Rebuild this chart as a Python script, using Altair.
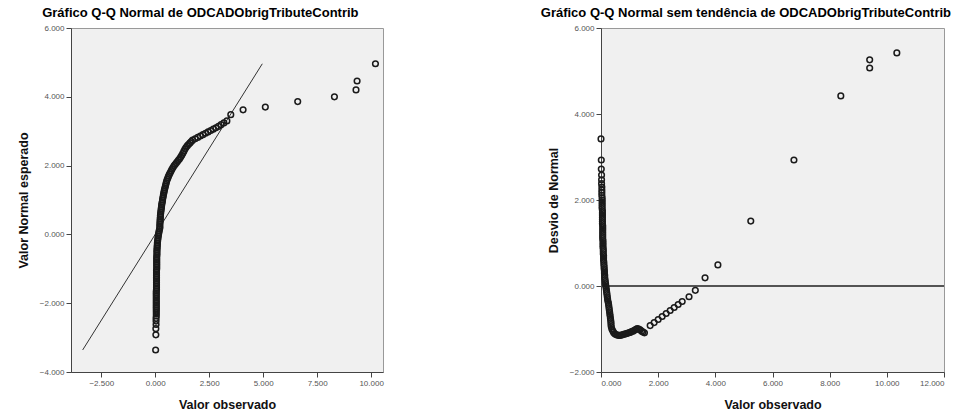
import altair as alt
import pandas as pd

# ---------- Left panel: Normal Q-Q plot (observed value, expected normal value)
LEFT_X = [
    0.02, 0.03, 0.03, 0.04, 0.04, 0.04, 0.05, 0.05, 0.05, 0.05, 0.05,
    0.05, 0.05, 0.05, 0.05, 0.05, 0.05, 0.05, 0.05, 0.05, 0.05, 0.06, 0.06,
    0.06, 0.06, 0.06, 0.06, 0.06, 0.06, 0.06, 0.06, 0.06, 0.06, 0.07, 0.07,
    0.07, 0.07, 0.07, 0.07, 0.07, 0.07, 0.08, 0.08, 0.08, 0.08, 0.09, 0.09,
    0.10, 0.10, 0.11, 0.12, 0.13, 0.14, 0.15, 0.17, 0.18, 0.20, 0.22,
    0.24, 0.25, 0.26, 0.27, 0.28, 0.29, 0.30, 0.31, 0.33, 0.34, 0.35, 0.37,
    0.38, 0.40, 0.41, 0.43, 0.45, 0.47, 0.49, 0.51, 0.53, 0.56, 0.59, 0.62,
    0.66, 0.70, 0.74, 0.78, 0.83, 0.88, 0.93, 0.98, 1.03, 1.08, 1.13, 1.18,
    1.23, 1.28, 1.33, 1.38, 1.43, 1.49, 1.55, 1.61, 1.67, 1.73,
    1.85, 1.97, 2.09, 2.21, 2.33, 2.45, 2.57, 2.69, 2.81, 2.93, 3.05, 3.18,
    3.32, 3.50, 4.07,
    5.10, 6.60, 8.30, 9.30, 9.35, 10.20,
    0.21, 0.22, 0.22, 0.23, 0.23, 0.24,
]
LEFT_Y = [
    -3.36, -2.92, -2.74, -2.62, -2.52, -2.44, -2.37, -2.31, -2.25, -2.20, -2.15,
    -2.10, -2.05, -2.00, -1.95, -1.90, -1.85, -1.80, -1.75, -1.70, -1.65, -1.60, -1.55,
    -1.50, -1.45, -1.40, -1.35, -1.30, -1.25, -1.20, -1.15, -1.10, -1.05, -1.00, -0.95,
    -0.90, -0.85, -0.80, -0.75, -0.70, -0.65, -0.60, -0.55, -0.50, -0.45, -0.40, -0.35,
    -0.30, -0.25, -0.20, -0.15, -0.10, -0.05, 0.00, 0.05, 0.10, 0.15, 0.20,
    0.55, 0.60, 0.65, 0.70, 0.75, 0.80, 0.85, 0.90, 0.95, 1.00, 1.05, 1.10,
    1.15, 1.20, 1.25, 1.30, 1.35, 1.40, 1.45, 1.50, 1.55, 1.60, 1.65, 1.70,
    1.75, 1.80, 1.85, 1.90, 1.95, 2.00, 2.04, 2.08, 2.12, 2.16, 2.20, 2.25,
    2.30, 2.36, 2.42, 2.48, 2.53, 2.58, 2.62, 2.66, 2.70, 2.74,
    2.78, 2.82, 2.86, 2.90, 2.94, 2.98, 3.02, 3.06, 3.10, 3.14, 3.19, 3.24,
    3.30, 3.48, 3.62,
    3.70, 3.86, 4.00, 4.20, 4.46, 4.96,
    0.25, 0.30, 0.35, 0.40, 0.45, 0.50,
]

# ---------- Right panel: Detrended Normal Q-Q plot (observed value, deviation)
RIGHT_X = [
    0.00, 0.01, 0.01, 0.02, 0.02, 0.02, 0.03, 0.03, 0.03, 0.03,
    0.04, 0.04, 0.04, 0.04, 0.04, 0.04, 0.05, 0.05, 0.05, 0.05, 0.05, 0.05,
    0.05, 0.06, 0.06, 0.06, 0.06, 0.06, 0.06, 0.06, 0.07, 0.07, 0.07, 0.07,
    0.08, 0.08, 0.08, 0.09, 0.09, 0.09, 0.10, 0.10, 0.11, 0.11, 0.12, 0.12,
    0.13, 0.13, 0.14, 0.15, 0.16, 0.17, 0.18, 0.19, 0.20, 0.21, 0.22, 0.23,
    0.24, 0.26, 0.27, 0.28, 0.29, 0.30, 0.31, 0.32, 0.33, 0.34,
    0.36, 0.38, 0.41, 0.44, 0.48, 0.52, 0.57, 0.62, 0.67, 0.72, 0.77, 0.82,
    0.87, 0.92, 0.97, 1.02, 1.07, 1.12, 1.17, 1.22, 1.27, 1.32, 1.37, 1.42,
    1.47, 1.52,
    1.72, 1.86, 2.00, 2.14, 2.28, 2.42, 2.56, 2.70, 2.84, 3.08, 3.30,
    3.64, 4.09, 5.24, 6.75, 8.39, 9.40, 9.40, 10.35,
    0.35, 0.35,
]
RIGHT_Y = [
    3.42, 2.93, 2.72, 2.58, 2.47, 2.38, 2.30, 2.23, 2.17, 2.11,
    2.05, 2.00, 1.95, 1.90, 1.85, 1.80, 1.75, 1.70, 1.65, 1.60, 1.55, 1.50,
    1.45, 1.40, 1.35, 1.30, 1.25, 1.20, 1.15, 1.10, 1.05, 1.00, 0.95, 0.90,
    0.85, 0.80, 0.75, 0.70, 0.65, 0.60, 0.55, 0.50, 0.45, 0.40, 0.35, 0.30,
    0.25, 0.20, 0.15, 0.10, 0.05, 0.00, -0.05, -0.10, -0.15, -0.20, -0.25, -0.30,
    -0.35, -0.40, -0.45, -0.50, -0.55, -0.60, -0.65, -0.70, -0.75, -0.80,
    -0.95, -1.00, -1.04, -1.08, -1.11, -1.13, -1.14, -1.15, -1.15, -1.14, -1.13, -1.12,
    -1.11, -1.10, -1.09, -1.08, -1.06, -1.05, -1.03, -1.01, -0.99, -1.00, -1.02, -1.05,
    -1.07, -1.09,
    -0.92, -0.85, -0.78, -0.71, -0.64, -0.57, -0.50, -0.43, -0.36, -0.25, -0.10,
    0.19, 0.49, 1.51, 2.93, 4.42, 5.07, 5.26, 5.42,
    -0.85, -0.90,
]

LEFT_XTICKS = [-2.5, 0, 2.5, 5, 7.5, 10]
LEFT_YTICKS = [-4, -2, 0, 2, 4, 6]
RIGHT_XTICKS = [0, 2, 4, 6, 8, 10, 12]
RIGHT_YTICKS = [-2, 0, 2, 4, 6]

FONT = "Liberation Sans"
PT_COLOR = "#1a1a1a"

left_df = pd.DataFrame({"x": LEFT_X, "y": LEFT_Y})
right_df = pd.DataFrame({"x": RIGHT_X, "y": RIGHT_Y})

lo, hi = min(LEFT_Y), max(LEFT_Y)
line_df = pd.DataFrame({"x": [lo, hi], "y": [lo, hi]})


def xaxis(ticks):
    return alt.Axis(values=ticks, format=".3f", title="Valor observado",
                    titlePadding=11)


def yaxis(ticks, title):
    return alt.Axis(values=ticks, format=".3f", title=title, titlePadding=9)


def title(text):
    return alt.TitleParams(text, fontSize=13, font=FONT, fontWeight="bold",
                           offset=4, anchor="middle", frame="bounds")


lx = alt.Scale(domain=[-3.9, 10.55], nice=False, zero=False)
ly = alt.Scale(domain=[-4, 6], nice=False, zero=False)

left_pts = alt.Chart(left_df).mark_point(
    shape="circle", filled=False, size=32, color=PT_COLOR, strokeWidth=1.5, opacity=1
).encode(
    x=alt.X("x:Q", scale=lx, axis=xaxis(LEFT_XTICKS)),
    y=alt.Y("y:Q", scale=ly, axis=yaxis(LEFT_YTICKS, "Valor Normal esperado")),
)
left_line = alt.Chart(line_df).mark_line(color="#333333", strokeWidth=1).encode(
    x=alt.X("x:Q", scale=lx), y=alt.Y("y:Q", scale=ly)
)
left = alt.layer(left_line, left_pts).properties(
    width=312, height=344,
    title=title("Gráfico Q-Q Normal de ODCADObrigTributeContrib"),
)

rx = alt.Scale(domain=[0, 12], nice=False, zero=False)
ry = alt.Scale(domain=[-2, 6], nice=False, zero=False)

right_pts = alt.Chart(right_df).mark_point(
    shape="circle", filled=False, size=32, color=PT_COLOR, strokeWidth=1.5, opacity=1
).encode(
    x=alt.X("x:Q", scale=rx, axis=xaxis(RIGHT_XTICKS)),
    y=alt.Y("y:Q", scale=ry, axis=yaxis(RIGHT_YTICKS, "Desvio de Normal")),
)
zero_rule = alt.Chart(right_df).mark_rule(color="#555555", strokeWidth=1).encode(
    y=alt.datum(0, scale=ry)
)
right = alt.layer(zero_rule, right_pts).properties(
    width=343, height=344,
    title=title("Gráfico Q-Q Normal sem tendência de ODCADObrigTributeContrib"),
)

chart = alt.hconcat(left, right, spacing=156).properties(
    padding={"left": 16, "top": 6, "right": 0, "bottom": 0},
    background="white",
).configure_view(
    fill="#f0f0f0", stroke="#999999", strokeWidth=1
).configure_axis(
    grid=False, domainColor="#444444", tickColor="#444444", tickSize=5,
    labelFontSize=8, labelColor="#555555", labelFont=FONT,
    titleFontSize=12.5, titleFont=FONT, titleFontWeight="bold", titleColor="#111111",
)

chart.save("out.html", embed_options={"renderer": "svg", "actions": False})
